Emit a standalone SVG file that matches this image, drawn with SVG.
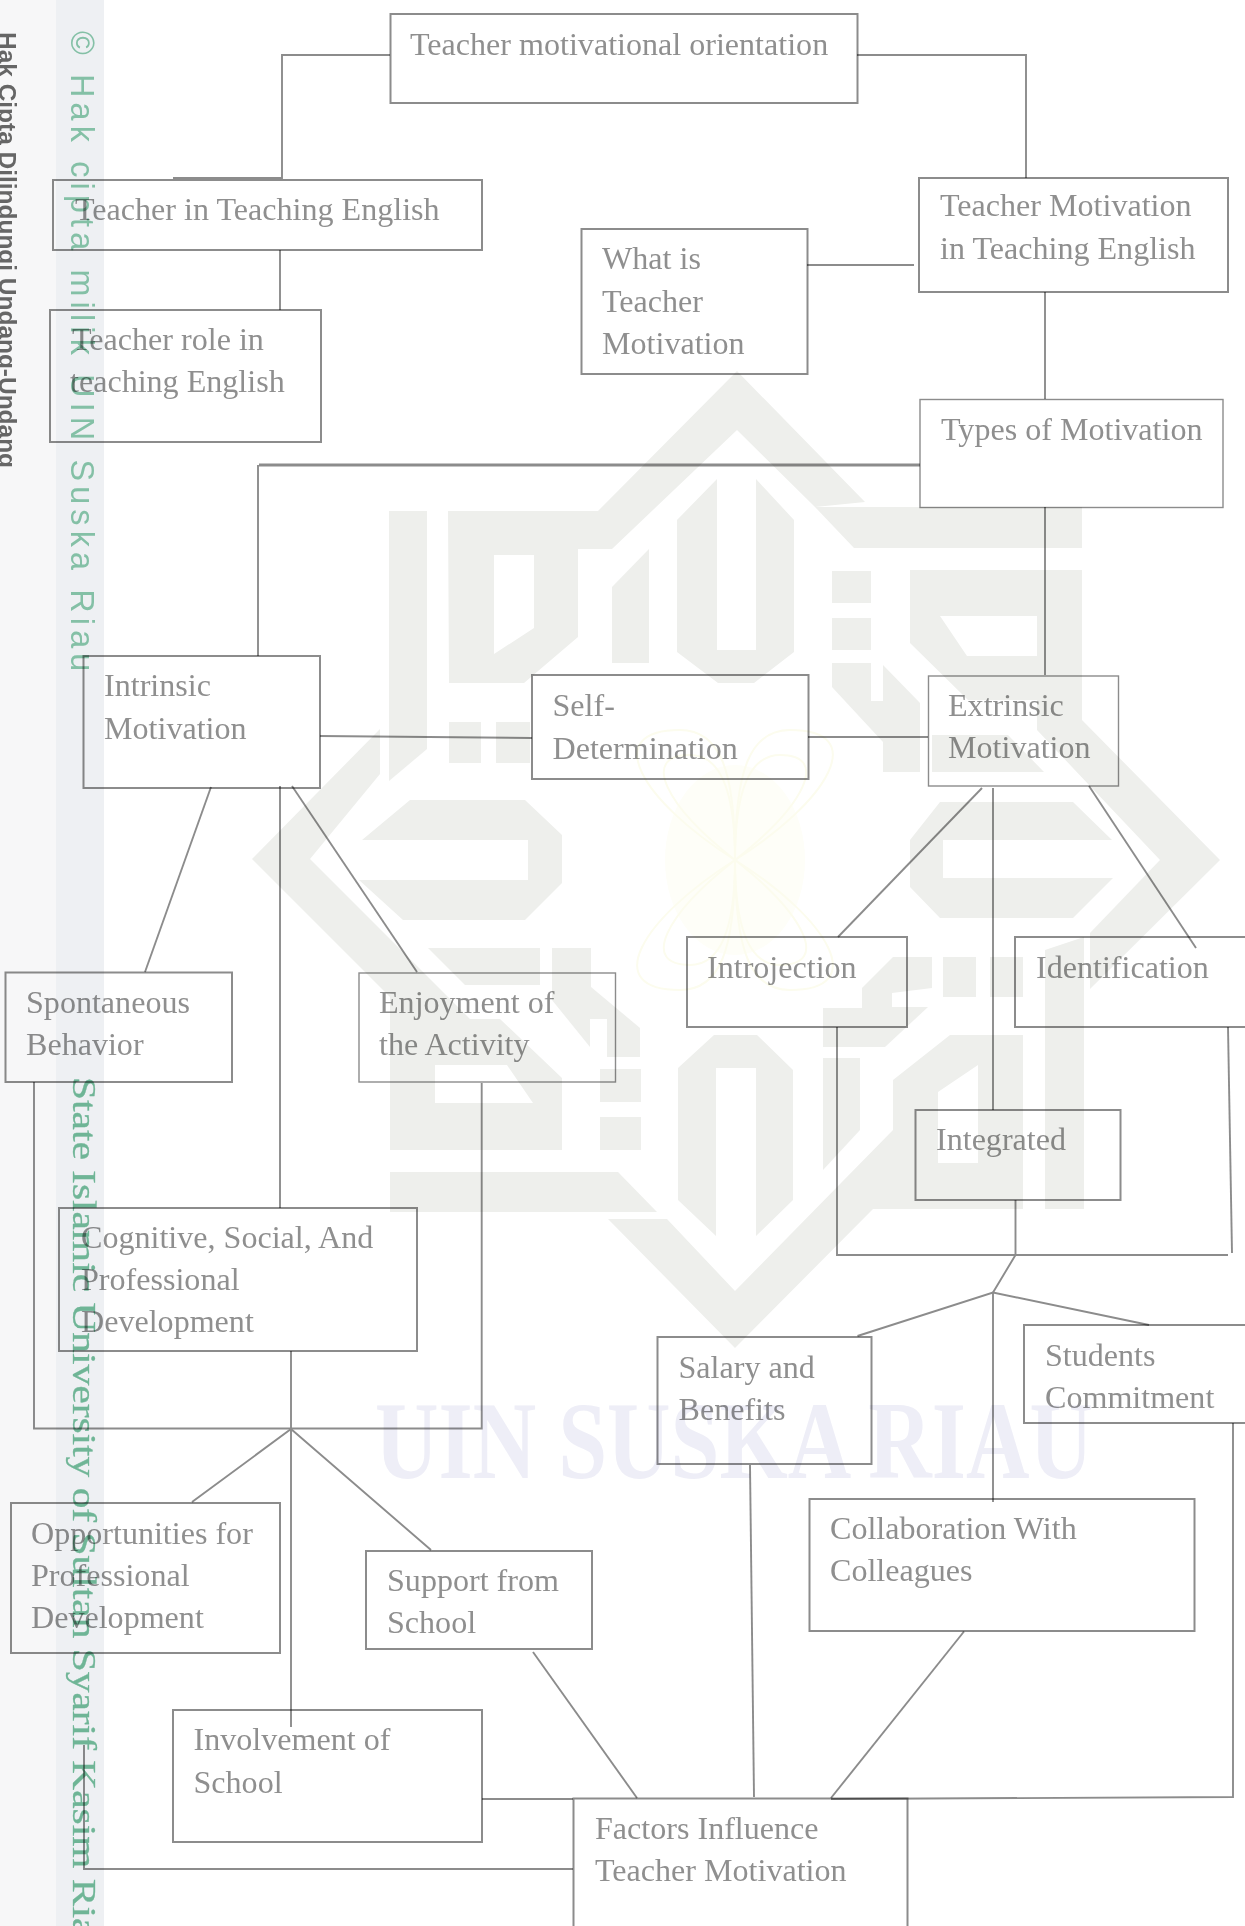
<svg xmlns="http://www.w3.org/2000/svg" width="1245" height="1926" viewBox="0 0 1245 1926">
<style>
.wm{fill:#eeefec}
.node,#connectors{mix-blend-mode:multiply}
.node rect{fill:none;stroke:#8c8c8c;stroke-width:2}
.node rect.thin{stroke-width:1.4}
.node text{font-family:"Liberation Serif","Times New Roman",serif;font-size:32.1px;fill:#8f8f8f}
#connectors path{fill:none;stroke:#8c8c8c;stroke-width:1.9}
.fl{fill:none;stroke:#fcfcee;stroke-width:2}
</style>
<rect width="1245" height="1926" fill="#fff"/>
<g id="margin">
<rect x="0" y="0" width="56" height="1926" fill="#f7f7f8"/>
<rect x="56" y="0" width="48" height="1926" fill="#eef0f3"/>
<text transform="translate(-1,32) rotate(90)" font-family="'Liberation Sans',Arial,sans-serif" font-weight="700" font-size="24" textLength="436" lengthAdjust="spacingAndGlyphs" fill="#666">Hak Cipta Dilindungi Undang-Undang</text>
<text transform="translate(71,31) rotate(90) scale(.95,1)" font-family="'Liberation Sans',Arial,sans-serif" font-size="34" textLength="674" fill="#84c0a6">© Hak cipta milik UIN Suska Riau</text>
<text transform="translate(73,1077) rotate(90)" font-family="'Liberation Serif','Times New Roman',serif" font-size="33" textLength="880" lengthAdjust="spacingAndGlyphs" stroke="#6fb596" stroke-width=".3" fill="#6fb596">State Islamic University of Sultan Syarif Kasim Riau</text>
</g>
<g id="watermark">
<polygon class="wm" points="389,511 427,511 427,749 389,781"/>
<path class="wm" fill-rule="evenodd" d="M448,511H598L737,371L865,502L815,507L737,430L612,549H578V637L524,683H449ZM494,555V654L534,628V555Z"/>
<polygon class="wm" points="612,587 649,549 649,663 612,663"/>
<rect class="wm" x="449" y="722" width="32" height="41"/>
<rect class="wm" x="496" y="722" width="34" height="41"/>
<polygon class="wm" points="677,520 717,479 717,650 756,650 756,479 794,520 794,652 754,683 718,683 677,652"/>
<polygon class="wm" points="815,507 1082,507 1082,548 854,548"/>
<rect class="wm" x="832" y="571" width="39" height="32"/>
<rect class="wm" x="832" y="618" width="39" height="32"/>
<polygon class="wm" points="832,663 871,663 871,701 883,701 883,665 920,703 920,772 883,772 883,742 832,687"/>
<path class="wm" fill-rule="evenodd" d="M910,570H1082V720L1220,860H1160L1037,730V700H968L910,643ZM940,616L967,656H1037V616Z"/>
<polygon class="wm" points="932,735 1008,735 1044,772 932,772"/>
<polygon class="wm" points="1220,860 1160,860 1090,933 1090,989"/>
<polygon class="wm" points="940,802 1073,802 1112,840 943,840 943,878 1113,878 1073,918 940,918 910,887 910,840"/>
<polygon class="wm" points="1045,950 1084,937 1084,1209 1045,1209"/>
<polygon class="wm" points="823,1008 862,1008 862,988 893,957 932,957 932,988 892,993 892,1007 928,1007 885,1047 823,1047"/>
<rect class="wm" x="943" y="957" width="33" height="40"/>
<rect class="wm" x="990" y="957" width="33" height="40"/>
<polygon class="wm" points="823,1058 860,1058 860,1130 823,1170"/>
<path class="wm" fill-rule="evenodd" d="M608,1219H667L735,1291L893,1130V1080L950,1035H1023V1209H873L735,1348ZM938,1092V1163H978V1065Z"/>
<polygon class="wm" points="390,1172 618,1172 657,1212 390,1212"/>
<polygon class="wm" points="678,1068 714,1035 757,1035 793,1070 793,1200 756,1236 756,1068 716,1068 716,1236 678,1200"/>
<polygon class="wm" points="362,840 410,800 525,800 562,835 562,883 525,920 403,920 359,880 528,880 528,840"/>
<polygon class="wm" points="252,859 380,729 380,774 310,859"/>
<path class="wm" fill-rule="evenodd" d="M252,859L390,997V1150H562V1078L500,1019H470L310,859ZM435,1065V1103H533L507,1065Z"/>
<polygon class="wm" points="428,948 540,948 540,985 465,985"/>
<polygon class="wm" points="552,948 591,948 591,987 640,1028 640,1057 607,1057 607,1019 590,1019 590,1047 552,1000"/>
<rect class="wm" x="600" y="1069" width="41" height="33"/>
<rect class="wm" x="600" y="1117" width="41" height="33"/>
<g id="flower">
<ellipse cx="735" cy="860" rx="70" ry="95" fill="#fefef8"/>
<path class="fl" d="M735,860C640,800 600,730 680,730C720,730 735,770 735,860C735,770 750,730 790,730C870,730 830,800 735,860C830,920 870,990 790,990C750,990 735,950 735,860C735,950 720,990 680,990C600,990 640,920 735,860Z"/>
<path class="fl" d="M735,860C665,805 640,755 690,755C720,755 735,790 735,860C735,790 750,755 780,755C830,755 805,805 735,860C805,915 830,965 780,965C750,965 735,930 735,860C735,930 720,965 690,965C640,965 665,915 735,860Z"/>
</g>
<text x="375" y="1478" font-family="'Liberation Serif','Times New Roman',serif" font-weight="700" font-size="110" textLength="718" lengthAdjust="spacingAndGlyphs" fill="#eeeef7">UIN SUSKA RIAU</text>
</g>
<g id="connectors">
<path d="M390,55H282V178H173"/>
<path d="M280,250V310"/>
<path d="M857,55H1026V178"/>
<path d="M807,265H914"/>
<path d="M1045,292V399"/>
<path d="M259,465H920" style="stroke-width:3"/>
<path d="M258,465V656"/>
<path d="M1045,507V675"/>
<path d="M320,736L532,738"/>
<path d="M808,737H928"/>
<path d="M982,788L838,937"/>
<path d="M993,788V1110"/>
<path d="M1089,786L1196,948"/>
<path d="M211,787L145,972"/>
<path d="M280,786V1208"/>
<path d="M292,786L417,972"/>
<path d="M837,1027V1255H1228"/>
<path d="M1228,1027L1232,1253"/>
<path d="M1015.500,1200V1255L993,1292.500"/>
<path d="M857.500,1336L993,1292.500L1149,1325"/>
<path d="M993,1292.500V1502"/>
<path d="M750,1465L754,1797"/>
<path d="M964,1631.500L831,1798"/>
<path d="M1233,1423V1797L831,1799"/>
<path d="M34,1082V1428.500H481.700V1083"/>
<path d="M291,1351V1727"/>
<path d="M192,1502L291,1429L431,1550"/>
<path d="M533,1652L637,1798"/>
<path d="M482,1799H573"/>
<path d="M84,1745V1869H573"/>
</g>
<g id="n-orientation" class="node"><rect x="390.500" y="14" width="467" height="89"/><text x="410" y="54.500">Teacher motivational orientation</text></g>
<g id="n-teacher-english" class="node"><rect x="53" y="180" width="429" height="70"/><text x="75" y="220">Teacher in Teaching English</text></g>
<g id="n-role" class="node"><rect x="50" y="310" width="271" height="132"/><text x="72" y="350">Teacher role in</text><text x="70" y="392">teaching English</text></g>
<g id="n-what" class="node"><rect x="581.500" y="229" width="226" height="145"/><text x="602" y="269">What is</text><text x="602" y="312">Teacher</text><text x="602" y="354">Motivation</text></g>
<g id="n-motivation-english" class="node"><rect x="919" y="178" width="309" height="114"/><text x="940" y="216">Teacher Motivation</text><text x="940" y="259">in Teaching English</text></g>
<g id="n-types" class="node"><rect class="thin" x="920" y="399.500" width="303" height="108"/><text x="941" y="440">Types of Motivation</text></g>
<g id="n-intrinsic" class="node"><rect x="83.500" y="656" width="236.500" height="132"/><text x="104" y="696">Intrinsic</text><text x="104" y="739">Motivation</text></g>
<g id="n-self" class="node"><rect x="532" y="675" width="276.500" height="104"/><text x="552.500" y="716">Self-</text><text x="552.500" y="758.500">Determination</text></g>
<g id="n-extrinsic" class="node"><rect class="thin" x="928.500" y="676" width="190" height="110"/><text x="948" y="716">Extrinsic</text><text x="948" y="758">Motivation</text></g>
<g id="n-spontaneous" class="node"><rect x="5.500" y="972.500" width="226.500" height="109.500"/><text x="26" y="1013">Spontaneous</text><text x="26" y="1055">Behavior</text></g>
<g id="n-enjoyment" class="node"><rect class="thin" x="359" y="973" width="256.500" height="109"/><text x="379" y="1013">Enjoyment of</text><text x="379" y="1055">the Activity</text></g>
<g id="n-introjection" class="node"><rect x="687" y="937" width="220" height="90"/><text x="707" y="978">Introjection</text></g>
<g id="n-identification" class="node"><rect x="1015" y="937" width="240" height="90"/><text x="1036" y="978">Identification</text></g>
<g id="n-integrated" class="node"><rect x="915.500" y="1110" width="205" height="90"/><text x="936" y="1150">Integrated</text></g>
<g id="n-cognitive" class="node"><rect x="59" y="1208" width="358" height="143"/><text x="81" y="1247.500">Cognitive, Social, And</text><text x="81" y="1290">Professional</text><text x="81" y="1332">Development</text></g>
<g id="n-salary" class="node"><rect x="657.500" y="1337" width="214" height="127"/><text x="678.500" y="1378">Salary and</text><text x="678.500" y="1420">Benefits</text></g>
<g id="n-students" class="node"><rect x="1024" y="1325" width="240" height="98"/><text x="1045" y="1366">Students</text><text x="1045" y="1408">Commitment</text></g>
<g id="n-collab" class="node"><rect x="809.500" y="1499" width="385" height="132"/><text x="830" y="1539">Collaboration With</text><text x="830" y="1581">Colleagues</text></g>
<g id="n-opportunities" class="node"><rect x="11" y="1503" width="269" height="150"/><text x="31" y="1543.500">Opportunities for</text><text x="31" y="1585.500">Professional</text><text x="31" y="1628">Development</text></g>
<g id="n-support" class="node"><rect x="366" y="1551" width="226" height="98"/><text x="387" y="1590.500">Support from</text><text x="387" y="1633">School</text></g>
<g id="n-involvement" class="node"><rect x="173" y="1710" width="309" height="132"/><text x="193.500" y="1750">Involvement of</text><text x="193.500" y="1793">School</text></g>
<g id="n-factors" class="node"><rect x="573.500" y="1798.500" width="334" height="150"/><text x="595" y="1839">Factors Influence</text><text x="595" y="1881">Teacher Motivation</text></g>
</svg>
